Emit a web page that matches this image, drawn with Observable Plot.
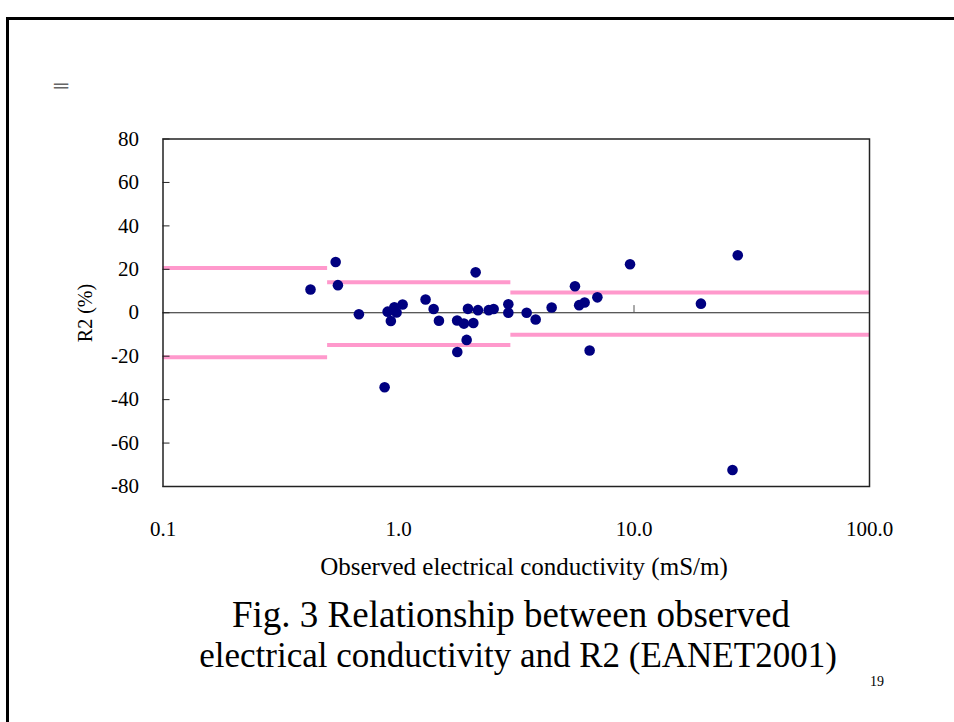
<!DOCTYPE html>
<html>
<head>
<meta charset="utf-8">
<script src="https://cdn.jsdelivr.net/npm/d3@7"></script>
<script src="https://cdn.jsdelivr.net/npm/@observablehq/plot@0.6"></script>
<style>
  html, body { margin: 0; padding: 0; background: #fff; }
  body { width: 954px; height: 722px; position: relative; overflow: hidden; font-family: "Liberation Serif", "Times New Roman", serif; }
  #slide { position: absolute; left: 6px; top: 17px; width: 1000px; height: 800px; border: 3px solid #000; box-sizing: border-box; }
  #chart { position: absolute; left: 0; top: 0; }
  .abs { position: absolute; white-space: nowrap; color: #000; }
</style>
</head>
<body>
<div id="slide"></div>
<div id="chart"></div>
<div class="abs" id="glyph" style="left:54px; top:74px; font-size:20px; color:#666;">═</div>
<div class="abs" id="ytitle" style="left:85px; top:313px; font-size:20px; transform: translate(-50%,-50%) rotate(-90deg);">R2 (%)</div>
<div class="abs" id="xtitle" style="left:524px; top:567px; font-size:25px; transform: translate(-50%,-50%);">Observed electrical conductivity (mS/m)</div>
<div class="abs" id="cap1" style="left:511px; top:614px; font-size:37px; transform: translate(-50%,-50%);">Fig. 3 Relationship between observed</div>
<div class="abs" id="cap2" style="left:518px; top:656px; font-size:35px; transform: translate(-50%,-50%);">electrical conductivity and R2 (EANET2001)</div>
<div class="abs" id="pg" style="left:870px; top:674px; font-size:14px;">19</div>
<script>
// Observed electrical conductivity (mS/m)
const ec = [0.423, 0.541, 0.553, 0.679, 0.873, 0.899, 0.928, 0.960, 0.981, 1.041,
            1.303, 1.410, 1.485, 1.774, 1.777, 1.896, 1.947, 1.972, 2.079, 2.126,
            2.175, 2.415, 2.535, 2.927, 2.927, 3.501, 3.823, 4.47, 5.615, 5.85,
            6.17, 6.48, 6.99, 9.62, 19.24, 26.2, 27.58];
// R2 (%)
const r2 = [10.7, 23.4, 12.7, -0.7, -34.3, 0.5, -3.8, 2.5, 0.1, 3.8,
            6.1, 1.7, -3.7, -3.6, -18.1, -5.0, -12.5, 1.8, -4.7, 18.6,
            1.2, 1.2, 1.7, 3.9, 0.0, 0.0, -3.1, 2.4, 12.2, 3.5,
            4.7, -17.4, 7.1, 22.3, 4.2, -72.4, 26.5];
// Criteria ranges
const segStart = [0.1, 0.5, 3];
const segEnd = [0.5, 3, 100];
const segUpper = [20.6, 14, 9.3];
const segLower = [-20.5, -14.9, -10.1];
// Ticks
const xTicks = [0.1, 1, 10, 100];
const yTicks = [-80, -60, -40, -20, 0, 20, 40, 60, 80];

const points = ec.map((x, i) => ({x, y: r2[i]}));
const segs = segStart.map((s, i) => ({s, e: segEnd[i], u: segUpper[i], l: segLower[i]}));

const chart = Plot.plot({
  width: 954,
  height: 600,
  marginLeft: 162.5,
  marginRight: 85,
  marginTop: 138.5,
  marginBottom: 114,
  style: {fontFamily: "Liberation Serif, Times New Roman, serif", fontSize: "21px", background: "transparent"},
  x: {type: "log", domain: [0.1, 100]},
  y: {domain: [-80, 80]},
  marks: [
    Plot.ruleY([0], {stroke: "#222", strokeWidth: 1}),
    Plot.ruleX([1, 10], {y1: 0, y2: 3.3, stroke: "#555", strokeWidth: 1}),
    Plot.ruleY(segs, {x1: "s", x2: "e", y: "u", stroke: "#ff99cc", strokeWidth: 4}),
    Plot.ruleY(segs, {x1: "s", x2: "e", y: "l", stroke: "#ff99cc", strokeWidth: 4}),
    Plot.dot(points, {x: "x", y: "y", r: 5.3, fill: "#000080", stroke: "none"}),
    Plot.frame({stroke: "#222", strokeWidth: 1.5}),
    Plot.axisX({ticks: xTicks, tickFormat: d3.format(".1f"), tickSize: 0, tickPadding: 35, fontSize: 21, label: null}),
    Plot.axisY({ticks: yTicks, tickFormat: d => String(d), tickSize: 0, tickPadding: 24, fontSize: 21, label: null}),
    Plot.axisY({ticks: yTicks, tickSize: 7, dx: 7, tickFormat: () => "", label: null, stroke: "#222"})
  ]
});
document.getElementById("chart").appendChild(chart);
</script>
</body>
</html>
